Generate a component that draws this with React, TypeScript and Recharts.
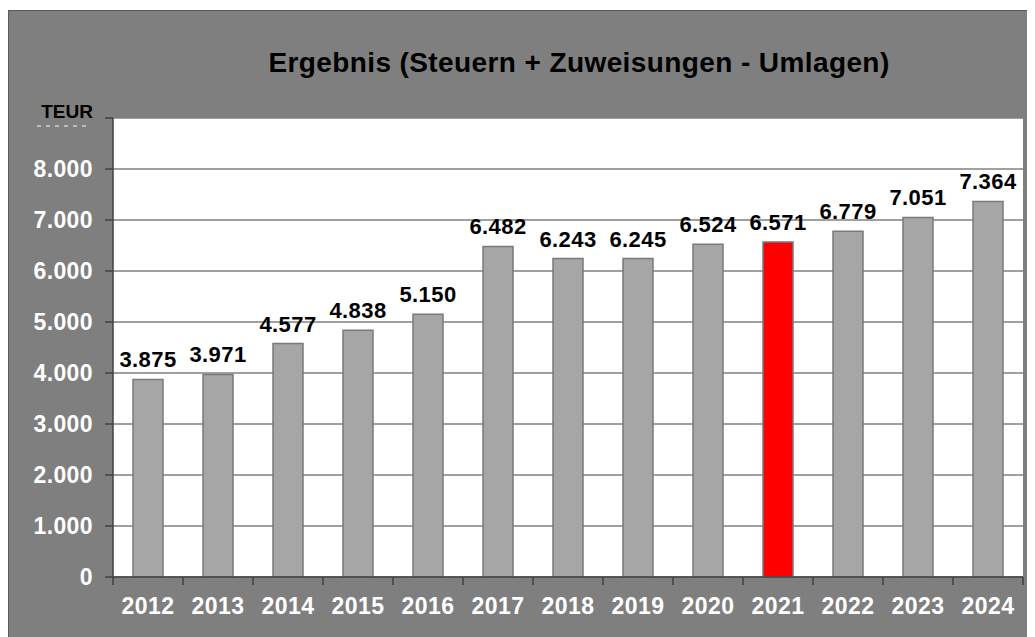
import React from "react";
import { BarChart, Bar, XAxis, YAxis, CartesianGrid, Cell, LabelList } from "recharts";

const years = ["2012", "2013", "2014", "2015", "2016", "2017", "2018", "2019", "2020", "2021", "2022", "2023", "2024"];
const values = [3875, 3971, 4577, 4838, 5150, 6482, 6243, 6245, 6524, 6571, 6779, 7051, 7364];
const highlightYear = "2021";
const yTicks = [0, 1000, 2000, 3000, 4000, 5000, 6000, 7000, 8000, 9000];
const unitLabel = "TEUR";
const title = "Ergebnis (Steuern + Zuweisungen - Umlagen)";

const data = years.map((year, i) => ({ year, value: values[i] }));

const FONT = '"Liberation Sans", Arial, sans-serif';
const HALF_BAND = 35;

// 1234 -> "1.234"
const fmt = (v: number) => String(v).replace(/\B(?=(\d{3})+(?!\d))/g, ".");

const YTick = (props: any) => {
  const { x, y, payload } = props;
  if (payload.value === 9000) {
    return (
      <g>
        <text x={x} y={y} textAnchor="end" fontFamily={FONT} fontWeight="bold" fontSize={19} fill="#000">
          {unitLabel}
        </text>
        <line x1={x - 56} x2={x - 2} y1={y + 8} y2={y + 8} stroke="#cfcfcf" strokeWidth={1.5} strokeDasharray="4 5" />
      </g>
    );
  }
  return (
    <text x={x} y={y} dy="0.36em" textAnchor="end" fontFamily={FONT} fontWeight="bold" fontSize={23} letterSpacing={0.4} fill="#fff">
      {fmt(payload.value)}
    </text>
  );
};

const XTick = (props: any) => {
  const { x, y, payload, index } = props;
  return (
    <g>
      <line x1={x - HALF_BAND} x2={x - HALF_BAND} y1={y} y2={y + 8} stroke="#404040" strokeWidth={1.5} />
      {index === years.length - 1 && (
        <line x1={x + HALF_BAND} x2={x + HALF_BAND} y1={y} y2={y + 8} stroke="#404040" strokeWidth={1.5} />
      )}
      <text x={x} y={y + 37} textAnchor="middle" fontFamily={FONT} fontWeight="bold" fontSize={23} letterSpacing={0.4} fill="#fff">
        {payload.value}
      </text>
    </g>
  );
};

export default function App() {
  return (
    <div
      style={{
        position: "relative",
        marginTop: 2,
        width: 1027,
        height: 627,
        background: "#7f7f7f",
        boxShadow: "inset 1px 1px 0 #5a5a5a",
        fontFamily: FONT,
      }}
    >
      <div
        style={{
          position: "absolute",
          left: 571,
          top: 37,
          transform: "translateX(-50%)",
          whiteSpace: "nowrap",
          fontSize: 28,
          fontWeight: "bold",
          letterSpacing: 0.4,
          color: "#000",
        }}
      >
        {title}
      </div>
      <BarChart width={1027} height={627} data={data} margin={{ top: 108, right: 12, bottom: 0, left: 0 }}>
        <CartesianGrid vertical={false} fill="#ffffff" stroke="#808080" strokeWidth={1.5} />
        <XAxis
          dataKey="year"
          height={60}
          tickLine={false}
          tickSize={0}
          tickMargin={0}
          axisLine={{ stroke: "#404040", strokeWidth: 1.5 }}
          tick={<XTick />}
          interval={0}
        />
        <YAxis
          width={105}
          domain={[0, 9000]}
          ticks={yTicks}
          interval={0}
          tickSize={8}
          tickMargin={12}
          tickLine={{ stroke: "#404040", strokeWidth: 1.5 }}
          axisLine={{ stroke: "#404040", strokeWidth: 1.5 }}
          tick={<YTick />}
        />
        <Bar dataKey="value" barSize={30} stroke="#7a7a7a" strokeWidth={1.5} isAnimationActive={false}>
          {data.map((d) => (
            <Cell key={d.year} fill={d.year === highlightYear ? "#ff0000" : "#a6a6a6"} />
          ))}
          <LabelList
            dataKey="value"
            position="top"
            offset={12}
            formatter={(v: any) => fmt(Number(v))}
            fill="#000"
            fontFamily={FONT}
            fontWeight="bold"
            fontSize={22}
            letterSpacing={0.4}
          />
        </Bar>
      </BarChart>
    </div>
  );
}
